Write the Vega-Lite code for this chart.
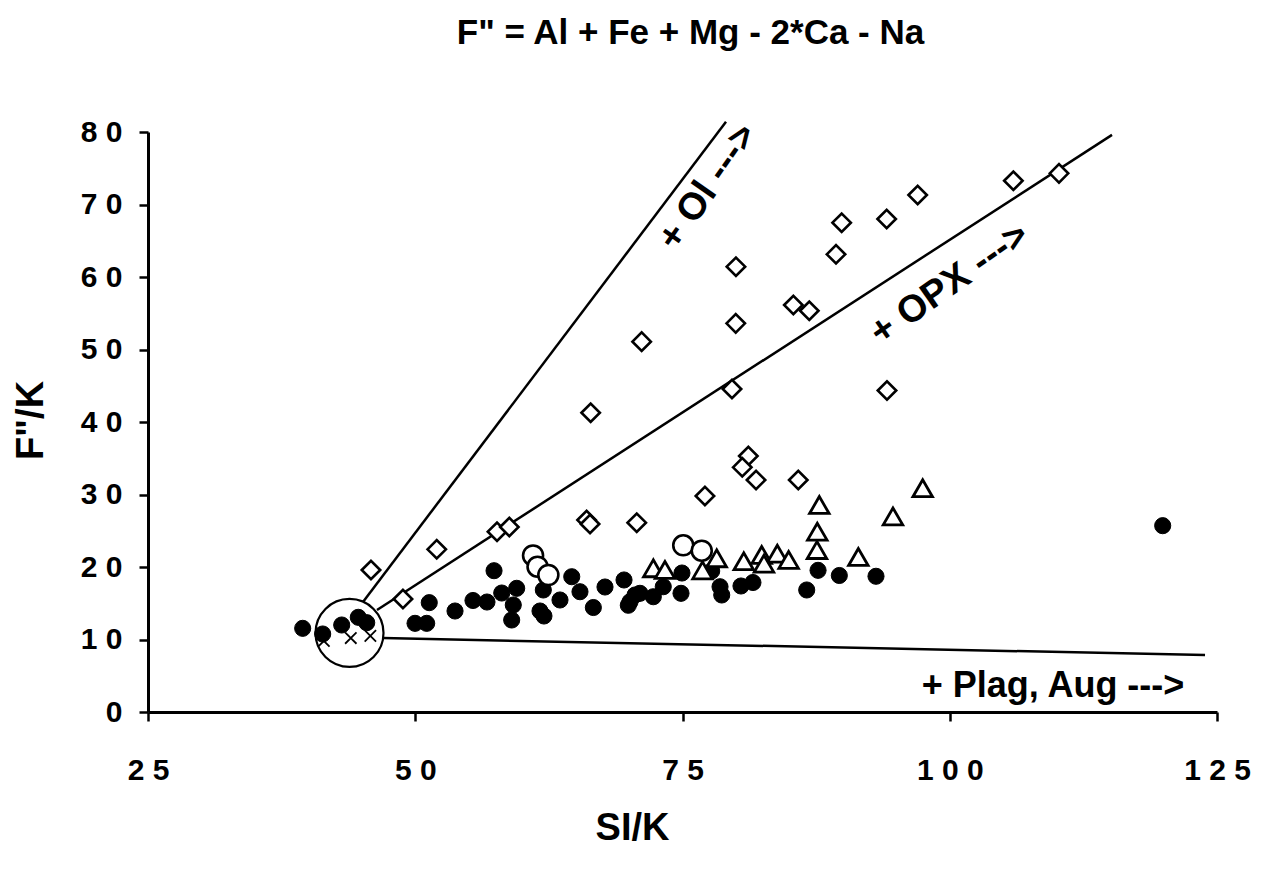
{
  "$schema": "https://vega.github.io/schema/vega-lite/v6.json",
  "width": 1069,
  "height": 580,
  "autosize": "none",
  "padding": {"left": 148, "top": 132, "right": 46, "bottom": 163},
  "background": "white",
  "title": {
    "text": "F\" = Al + Fe + Mg - 2*Ca - Na",
    "font": "Liberation Sans",
    "fontSize": 35,
    "fontWeight": "bold",
    "color": "black",
    "offset": 66,
    "dx": 8
  },
  "config": {
    "view": {"stroke": null},
    "axis": {
      "grid": false,
      "domainColor": "black",
      "domainWidth": 3,
      "tickColor": "black",
      "tickWidth": 2.5,
      "tickSize": 9,
      "labelFlush": false,
      "labelFont": "Liberation Sans",
      "labelFontWeight": "bold",
      "labelColor": "black",
      "titleFont": "Liberation Sans",
      "titleFontWeight": "bold",
      "titleColor": "black"
    }
  },
  "datasets": {
    "pts": [
      {"kind": "diamond", "si": 45.86, "f": 19.59},
      {"kind": "diamond", "si": 48.85, "f": 15.59},
      {"kind": "diamond", "si": 52.01, "f": 22.44},
      {"kind": "diamond", "si": 57.65, "f": 24.87},
      {"kind": "diamond", "si": 58.8, "f": 25.52},
      {"kind": "diamond", "si": 66.03, "f": 26.48},
      {"kind": "diamond", "si": 66.35, "f": 25.93},
      {"kind": "diamond", "si": 70.72, "f": 26.11},
      {"kind": "diamond", "si": 66.41, "f": 41.28},
      {"kind": "diamond", "si": 71.18, "f": 51.08},
      {"kind": "diamond", "si": 77.1, "f": 29.79},
      {"kind": "diamond", "si": 79.63, "f": 44.55},
      {"kind": "diamond", "si": 79.98, "f": 53.61},
      {"kind": "diamond", "si": 80.0, "f": 61.42},
      {"kind": "diamond", "si": 81.16, "f": 35.31},
      {"kind": "diamond", "si": 80.59, "f": 33.75},
      {"kind": "diamond", "si": 81.88, "f": 32.0},
      {"kind": "diamond", "si": 85.83, "f": 32.0},
      {"kind": "diamond", "si": 85.37, "f": 56.14},
      {"kind": "diamond", "si": 86.86, "f": 55.35},
      {"kind": "diamond", "si": 89.36, "f": 63.13},
      {"kind": "diamond", "si": 89.89, "f": 67.49},
      {"kind": "diamond", "si": 94.1, "f": 68.0},
      {"kind": "diamond", "si": 97.0, "f": 71.31},
      {"kind": "diamond", "si": 94.13, "f": 44.34},
      {"kind": "diamond", "si": 105.95, "f": 73.28},
      {"kind": "diamond", "si": 110.22, "f": 74.3},
      {"kind": "triangle", "si": 87.8, "f": 28.55},
      {"kind": "triangle", "si": 87.61, "f": 24.87},
      {"kind": "triangle", "si": 87.58, "f": 22.34},
      {"kind": "triangle", "si": 94.69, "f": 26.97},
      {"kind": "triangle", "si": 97.47, "f": 30.86},
      {"kind": "triangle", "si": 91.45, "f": 21.38},
      {"kind": "triangle", "si": 80.73, "f": 20.79},
      {"kind": "triangle", "si": 82.41, "f": 21.66},
      {"kind": "triangle", "si": 83.87, "f": 21.83},
      {"kind": "triangle", "si": 84.93, "f": 20.97},
      {"kind": "triangle", "si": 82.62, "f": 20.46},
      {"kind": "triangle", "si": 78.2, "f": 21.2},
      {"kind": "triangle", "si": 72.27, "f": 19.82},
      {"kind": "triangle", "si": 73.36, "f": 19.59},
      {"kind": "triangle", "si": 76.87, "f": 19.54},
      {"kind": "open", "si": 61.02, "f": 21.59},
      {"kind": "open", "si": 61.44, "f": 20.04},
      {"kind": "open", "si": 62.45, "f": 18.9},
      {"kind": "open", "si": 75.07, "f": 22.99},
      {"kind": "open", "si": 76.8, "f": 22.25},
      {"kind": "filled", "si": 39.47, "f": 11.54},
      {"kind": "filled", "si": 41.34, "f": 10.76},
      {"kind": "filled", "si": 43.12, "f": 12.0},
      {"kind": "filled", "si": 44.67, "f": 13.06},
      {"kind": "filled", "si": 45.46, "f": 12.32},
      {"kind": "filled", "si": 49.98, "f": 12.23},
      {"kind": "filled", "si": 51.07, "f": 12.23},
      {"kind": "filled", "si": 51.31, "f": 15.08},
      {"kind": "filled", "si": 53.72, "f": 13.93},
      {"kind": "filled", "si": 55.4, "f": 15.38},
      {"kind": "filled", "si": 56.71, "f": 15.17},
      {"kind": "filled", "si": 58.09, "f": 16.41},
      {"kind": "filled", "si": 59.49, "f": 17.06},
      {"kind": "filled", "si": 59.17, "f": 14.76},
      {"kind": "filled", "si": 59.02, "f": 12.69},
      {"kind": "filled", "si": 57.37, "f": 19.49},
      {"kind": "filled", "si": 61.67, "f": 13.93},
      {"kind": "filled", "si": 62.04, "f": 13.24},
      {"kind": "filled", "si": 61.98, "f": 16.83},
      {"kind": "filled", "si": 63.54, "f": 15.45},
      {"kind": "filled", "si": 64.64, "f": 18.66},
      {"kind": "filled", "si": 65.41, "f": 16.59},
      {"kind": "filled", "si": 66.66, "f": 14.41},
      {"kind": "filled", "si": 67.75, "f": 17.24},
      {"kind": "filled", "si": 69.53, "f": 18.21},
      {"kind": "filled", "si": 70.09, "f": 15.21},
      {"kind": "filled", "si": 69.93, "f": 14.72},
      {"kind": "filled", "si": 70.56, "f": 16.14},
      {"kind": "filled", "si": 71.02, "f": 16.37},
      {"kind": "filled", "si": 72.27, "f": 15.9},
      {"kind": "filled", "si": 73.2, "f": 17.28},
      {"kind": "filled", "si": 74.95, "f": 19.17},
      {"kind": "filled", "si": 74.86, "f": 16.37},
      {"kind": "filled", "si": 77.73, "f": 19.45},
      {"kind": "filled", "si": 78.51, "f": 17.28},
      {"kind": "filled", "si": 78.67, "f": 16.14},
      {"kind": "filled", "si": 80.47, "f": 17.38},
      {"kind": "filled", "si": 81.59, "f": 17.86},
      {"kind": "filled", "si": 86.62, "f": 16.83},
      {"kind": "filled", "si": 87.68, "f": 19.54},
      {"kind": "filled", "si": 89.67, "f": 18.83},
      {"kind": "filled", "si": 93.1, "f": 18.72},
      {"kind": "filled", "si": 119.92, "f": 25.7},
      {"kind": "cross", "si": 41.45, "f": 9.8},
      {"kind": "cross", "si": 43.97, "f": 10.2},
      {"kind": "cross", "si": 45.8, "f": 10.5}
    ],
    "lines": [
      {"line": "Ol", "si": 45.11, "f": 15.17},
      {"line": "Ol", "si": 79.07, "f": 81.4},
      {"line": "OPX", "si": 46.42, "f": 14.07},
      {"line": "OPX", "si": 115.18, "f": 79.6},
      {"line": "Plag", "si": 46.98, "f": 10.2},
      {"line": "Plag", "si": 123.88, "f": 7.86}
    ],
    "ring": [{"si": 43.85, "f": 10.9}]
  },
  "layer": [
    {
      "data": {"name": "lines"},
      "mark": {"type": "line", "color": "black", "strokeWidth": 2.5},
      "encoding": {
        "x": {
          "field": "si", "type": "quantitative",
          "scale": {"domain": [25, 125], "nice": false, "zero": false},
          "axis": {
            "title": "SI/K",
            "titleFontSize": 38,
            "titlePadding": 24,
            "titleX": 484,
            "values": [25, 50, 75, 100, 125],
            "labelFontSize": 30,
            "labelPadding": 34,
            "labelExpr": "join(split(datum.label, ''), ' ')"
          }
        },
        "y": {
          "field": "f", "type": "quantitative",
          "scale": {"domain": [0, 80], "nice": false},
          "axis": {
            "title": "F\"/K",
            "titleFontSize": 38,
            "titlePadding": 30,
            "titleY": 288,
            "values": [0, 10, 20, 30, 40, 50, 60, 70, 80],
            "labelFontSize": 30,
            "labelPadding": 17,
            "labelExpr": "join(split(datum.label, ''), ' ')"
          }
        },
        "detail": {"field": "line"}
      }
    },
    {
      "data": {"name": "ring"},
      "mark": {"type": "point", "shape": "circle", "size": 4624, "filled": false, "stroke": "black", "strokeWidth": 2.2, "opacity": 1},
      "encoding": {
        "x": {"field": "si", "type": "quantitative"},
        "y": {"field": "f", "type": "quantitative"}
      }
    },
    {
      "data": {"name": "pts"},
      "transform": [{"filter": "datum.kind === 'diamond'"}],
      "mark": {"type": "point", "shape": "diamond", "size": 340, "filled": true, "fill": "white", "stroke": "black", "strokeWidth": 2.6, "opacity": 1},
      "encoding": {
        "x": {"field": "si", "type": "quantitative"},
        "y": {"field": "f", "type": "quantitative"}
      }
    },
    {
      "data": {"name": "pts"},
      "transform": [{"filter": "datum.kind === 'cross'"}],
      "mark": {"type": "point", "shape": "M -1 -1 L 1 1 M -1 1 L 1 -1", "size": 130, "filled": false, "stroke": "black", "strokeWidth": 1.8, "opacity": 1},
      "encoding": {
        "x": {"field": "si", "type": "quantitative"},
        "y": {"field": "f", "type": "quantitative"}
      }
    },
    {
      "data": {"name": "pts"},
      "transform": [{"filter": "datum.kind === 'filled'"}],
      "mark": {"type": "point", "shape": "circle", "size": 260, "filled": true, "fill": "black", "stroke": "black", "strokeWidth": 1, "opacity": 1},
      "encoding": {
        "x": {"field": "si", "type": "quantitative"},
        "y": {"field": "f", "type": "quantitative"}
      }
    },
    {
      "data": {"name": "pts"},
      "transform": [{"filter": "datum.kind === 'triangle'"}],
      "mark": {"type": "point", "shape": "triangle-up", "size": 380, "filled": true, "fill": "white", "stroke": "black", "strokeWidth": 2.8, "opacity": 1},
      "encoding": {
        "x": {"field": "si", "type": "quantitative"},
        "y": {"field": "f", "type": "quantitative"}
      }
    },
    {
      "data": {"name": "pts"},
      "transform": [{"filter": "datum.kind === 'open'"}],
      "mark": {"type": "point", "shape": "circle", "size": 400, "filled": true, "fill": "white", "stroke": "black", "strokeWidth": 2.6, "opacity": 1},
      "encoding": {
        "x": {"field": "si", "type": "quantitative"},
        "y": {"field": "f", "type": "quantitative"}
      }
    },
    {
      "data": {"values": [{"label": "+ Ol --->", "si": 77.4, "f": 72.4}]},
      "mark": {"type": "text", "angle": -55, "align": "center", "baseline": "middle", "font": "Liberation Sans", "fontWeight": "bold", "fontSize": 38, "color": "black"},
      "encoding": {
        "x": {"field": "si", "type": "quantitative"},
        "y": {"field": "f", "type": "quantitative"},
        "text": {"field": "label"}
      }
    },
    {
      "data": {"values": [{"label": "+ OPX --->", "si": 100.0, "f": 59.0}]},
      "mark": {"type": "text", "angle": -35, "align": "center", "baseline": "middle", "font": "Liberation Sans", "fontWeight": "bold", "fontSize": 38, "color": "black"},
      "encoding": {
        "x": {"field": "si", "type": "quantitative"},
        "y": {"field": "f", "type": "quantitative"},
        "text": {"field": "label"}
      }
    },
    {
      "data": {"values": [{"label": "+ Plag, Aug --->", "si": 109.66, "f": 2.07}]},
      "mark": {"type": "text", "align": "center", "baseline": "alphabetic", "font": "Liberation Sans", "fontWeight": "bold", "fontSize": 36, "color": "black"},
      "encoding": {
        "x": {"field": "si", "type": "quantitative"},
        "y": {"field": "f", "type": "quantitative"},
        "text": {"field": "label"}
      }
    }
  ]
}
